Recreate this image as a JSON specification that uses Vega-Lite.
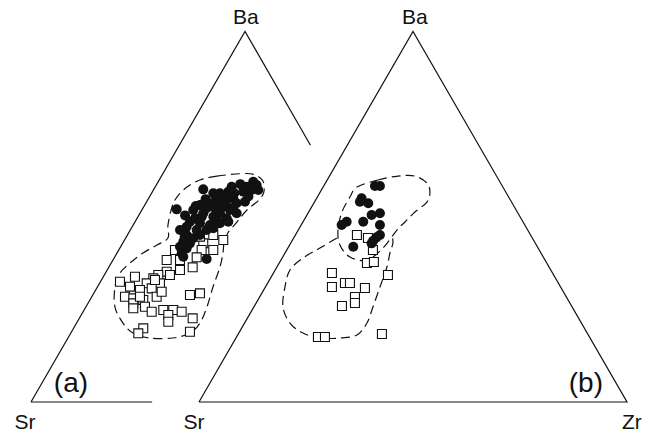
{
  "$schema": "https://vega.github.io/schema/vega-lite/v6.json",
  "width": 655,
  "height": 433,
  "padding": 0,
  "autosize": {"type": "fit", "contains": "padding"},
  "background": "white",
  "config": {"view": {"stroke": null}},
  "datasets": {
    "tri": [
      {"seg": "a1", "ord": 1, "x": 0, "y": 0},
      {"seg": "a1", "ord": 2, "x": 50, "y": 86.6},
      {"seg": "a1", "ord": 3, "x": 65.3, "y": 60.0},
      {"seg": "a2", "ord": 1, "x": 0, "y": 0},
      {"seg": "a2", "ord": 2, "x": 28.3, "y": 0},
      {"seg": "b", "ord": 1, "x": 39.25, "y": 0},
      {"seg": "b", "ord": 2, "x": 89.25, "y": 86.6},
      {"seg": "b", "ord": 3, "x": 139.25, "y": 0},
      {"seg": "b", "ord": 4, "x": 39.25, "y": 0}
    ],
    "envClosed": [
      {"g": "a", "ord": 1, "x": 39.48, "y": 51.86},
      {"g": "a", "ord": 2, "x": 43.45, "y": 52.76},
      {"g": "a", "ord": 3, "x": 48.82, "y": 53.33},
      {"g": "a", "ord": 4, "x": 52.06, "y": 53.19},
      {"g": "a", "ord": 5, "x": 54.16, "y": 51.69},
      {"g": "a", "ord": 6, "x": 54.4, "y": 49.06},
      {"g": "a", "ord": 7, "x": 53.13, "y": 47.09},
      {"g": "a", "ord": 8, "x": 50.46, "y": 44.85},
      {"g": "a", "ord": 9, "x": 48.12, "y": 42.05},
      {"g": "a", "ord": 10, "x": 46.0, "y": 39.5},
      {"g": "a", "ord": 11, "x": 45.1, "y": 37.14},
      {"g": "a", "ord": 12, "x": 44.85, "y": 34.81},
      {"g": "a", "ord": 13, "x": 44.15, "y": 31.54},
      {"g": "a", "ord": 14, "x": 42.52, "y": 26.86},
      {"g": "a", "ord": 15, "x": 41.11, "y": 22.19},
      {"g": "a", "ord": 16, "x": 39.48, "y": 18.45},
      {"g": "a", "ord": 17, "x": 37.14, "y": 16.12},
      {"g": "a", "ord": 18, "x": 33.17, "y": 14.95},
      {"g": "a", "ord": 19, "x": 27.8, "y": 14.95},
      {"g": "a", "ord": 20, "x": 23.83, "y": 16.12},
      {"g": "a", "ord": 21, "x": 21.49, "y": 18.45},
      {"g": "a", "ord": 22, "x": 19.62, "y": 22.19},
      {"g": "a", "ord": 23, "x": 19.62, "y": 26.86},
      {"g": "a", "ord": 24, "x": 20.79, "y": 30.13},
      {"g": "a", "ord": 25, "x": 23.13, "y": 32.47},
      {"g": "a", "ord": 26, "x": 26.16, "y": 34.81},
      {"g": "a", "ord": 27, "x": 29.43, "y": 36.68},
      {"g": "a", "ord": 28, "x": 32.0, "y": 38.31},
      {"g": "a", "ord": 29, "x": 32.0, "y": 41.35},
      {"g": "a", "ord": 30, "x": 32.94, "y": 45.55},
      {"g": "a", "ord": 31, "x": 34.1, "y": 47.89},
      {"g": "a", "ord": 32, "x": 36.44, "y": 50.22},
      {"g": "bu", "ord": 1, "x": 76.15, "y": 50.22},
      {"g": "bu", "ord": 2, "x": 81.06, "y": 51.86},
      {"g": "bu", "ord": 3, "x": 85.73, "y": 52.79},
      {"g": "bu", "ord": 4, "x": 89.7, "y": 52.79},
      {"g": "bu", "ord": 5, "x": 92.51, "y": 51.16},
      {"g": "bu", "ord": 6, "x": 93.21, "y": 49.06},
      {"g": "bu", "ord": 7, "x": 92.51, "y": 46.72},
      {"g": "bu", "ord": 8, "x": 89.7, "y": 44.38},
      {"g": "bu", "ord": 9, "x": 87.37, "y": 42.05},
      {"g": "bu", "ord": 10, "x": 85.5, "y": 40.18},
      {"g": "bu", "ord": 11, "x": 82.23, "y": 35.97},
      {"g": "bu", "ord": 12, "x": 78.49, "y": 33.17},
      {"g": "bu", "ord": 13, "x": 74.52, "y": 33.87},
      {"g": "bu", "ord": 14, "x": 72.18, "y": 36.68},
      {"g": "bu", "ord": 15, "x": 71.72, "y": 40.18},
      {"g": "bu", "ord": 16, "x": 72.65, "y": 44.38},
      {"g": "bu", "ord": 17, "x": 74.52, "y": 47.89}
    ],
    "envOpen": [
      {"g": "bl", "ord": 1, "x": 71.48, "y": 38.31},
      {"g": "bl", "ord": 2, "x": 67.51, "y": 35.97},
      {"g": "bl", "ord": 3, "x": 63.54, "y": 33.64},
      {"g": "bl", "ord": 4, "x": 60.5, "y": 30.84},
      {"g": "bl", "ord": 5, "x": 59.33, "y": 26.86},
      {"g": "bl", "ord": 6, "x": 58.87, "y": 22.19},
      {"g": "bl", "ord": 7, "x": 60.5, "y": 18.45},
      {"g": "bl", "ord": 8, "x": 63.54, "y": 16.12},
      {"g": "bl", "ord": 9, "x": 67.51, "y": 14.95},
      {"g": "bl", "ord": 10, "x": 72.18, "y": 14.95},
      {"g": "bl", "ord": 11, "x": 76.15, "y": 15.65},
      {"g": "bl", "ord": 12, "x": 78.49, "y": 18.45},
      {"g": "bl", "ord": 13, "x": 79.89, "y": 22.19},
      {"g": "bl", "ord": 14, "x": 81.53, "y": 26.86},
      {"g": "bl", "ord": 15, "x": 83.16, "y": 31.54},
      {"g": "bl", "ord": 16, "x": 83.86, "y": 34.81},
      {"g": "bl", "ord": 17, "x": 84.56, "y": 37.14},
      {"g": "bl", "ord": 18, "x": 84.33, "y": 39.01}
    ],
    "squares": [
      {"x": 42.59, "y": 39.01}, {"x": 44.92, "y": 37.84}, {"x": 42.59, "y": 35.51},
      {"x": 40.25, "y": 37.07}, {"x": 39.87, "y": 35.51}, {"x": 38.71, "y": 33.8},
      {"x": 33.64, "y": 35.51}, {"x": 31.7, "y": 33.17}, {"x": 34.81, "y": 33.17},
      {"x": 37.77, "y": 31.46}, {"x": 34.81, "y": 30.84}, {"x": 31.7, "y": 30.45},
      {"x": 29.74, "y": 29.67}, {"x": 32.47, "y": 29.67}, {"x": 28.57, "y": 28.9},
      {"x": 24.29, "y": 29.27}, {"x": 20.79, "y": 28.1}, {"x": 27.03, "y": 27.73},
      {"x": 30.13, "y": 27.73}, {"x": 23.13, "y": 26.94}, {"x": 25.46, "y": 26.16},
      {"x": 28.2, "y": 26.55}, {"x": 29.36, "y": 24.6}, {"x": 21.96, "y": 24.6},
      {"x": 23.9, "y": 24.22}, {"x": 26.23, "y": 23.83}, {"x": 23.9, "y": 23.06},
      {"x": 23.9, "y": 21.89}, {"x": 26.63, "y": 22.26}, {"x": 28.2, "y": 21.09},
      {"x": 30.91, "y": 21.49}, {"x": 33.24, "y": 21.49}, {"x": 35.2, "y": 21.09},
      {"x": 32.08, "y": 20.32}, {"x": 37.14, "y": 25.0}, {"x": 39.48, "y": 25.39},
      {"x": 37.77, "y": 19.55}, {"x": 32.08, "y": 18.76}, {"x": 37.14, "y": 16.42},
      {"x": 26.23, "y": 17.22}, {"x": 25.07, "y": 16.04}, {"x": 39.48, "y": 38.63},
      {"x": 28.97, "y": 28.5}, {"x": 30.53, "y": 25.77}, {"x": 25.46, "y": 24.6},
      {"x": 76.15, "y": 39.01}, {"x": 78.72, "y": 38.31}, {"x": 79.89, "y": 35.51},
      {"x": 78.49, "y": 32.47}, {"x": 80.12, "y": 32.7}, {"x": 70.31, "y": 30.13},
      {"x": 83.4, "y": 29.67}, {"x": 70.31, "y": 26.86}, {"x": 73.35, "y": 27.8},
      {"x": 74.52, "y": 27.8}, {"x": 78.02, "y": 26.63}, {"x": 75.69, "y": 24.53},
      {"x": 75.69, "y": 23.13}, {"x": 72.65, "y": 22.43}, {"x": 67.04, "y": 15.18},
      {"x": 68.68, "y": 15.18}, {"x": 81.99, "y": 15.88}
    ],
    "circles": [
      {"x": 51.93, "y": 51.47}, {"x": 52.72, "y": 50.69}, {"x": 53.1, "y": 49.52},
      {"x": 51.55, "y": 49.52}, {"x": 49.6, "y": 49.13}, {"x": 49.99, "y": 46.79},
      {"x": 46.88, "y": 50.3}, {"x": 46.1, "y": 49.13}, {"x": 45.32, "y": 47.96},
      {"x": 47.26, "y": 47.58}, {"x": 48.05, "y": 46.42}, {"x": 40.25, "y": 49.68},
      {"x": 34.04, "y": 45.01}, {"x": 43.38, "y": 47.58}, {"x": 41.81, "y": 46.42},
      {"x": 39.48, "y": 46.02}, {"x": 37.91, "y": 44.85}, {"x": 41.04, "y": 45.25},
      {"x": 42.98, "y": 45.25}, {"x": 44.92, "y": 45.62}, {"x": 46.49, "y": 44.85},
      {"x": 45.72, "y": 42.91}, {"x": 44.15, "y": 44.08}, {"x": 42.59, "y": 43.29},
      {"x": 40.25, "y": 44.08}, {"x": 38.31, "y": 42.91}, {"x": 37.14, "y": 42.12},
      {"x": 39.48, "y": 41.75}, {"x": 41.81, "y": 41.35}, {"x": 44.15, "y": 41.75},
      {"x": 46.1, "y": 42.12}, {"x": 41.04, "y": 40.18}, {"x": 38.71, "y": 40.18},
      {"x": 34.81, "y": 40.18}, {"x": 36.37, "y": 39.01}, {"x": 37.91, "y": 38.24},
      {"x": 39.48, "y": 39.01}, {"x": 35.58, "y": 37.45}, {"x": 37.14, "y": 37.07},
      {"x": 34.81, "y": 36.28}, {"x": 36.37, "y": 35.9}, {"x": 35.2, "y": 34.74},
      {"x": 35.58, "y": 33.94}, {"x": 41.04, "y": 33.4}, {"x": 44.15, "y": 48.75},
      {"x": 50.39, "y": 50.3}, {"x": 42.59, "y": 48.75}, {"x": 48.05, "y": 44.08},
      {"x": 36.37, "y": 40.96}, {"x": 43.38, "y": 42.52},
      {"x": 47.5, "y": 48.8}, {"x": 50.8, "y": 48.0}, {"x": 48.9, "y": 50.9},
      {"x": 45.5, "y": 46.4}, {"x": 43.8, "y": 46.6}, {"x": 39.9, "y": 43.3},
      {"x": 40.8, "y": 47.4}, {"x": 38.5, "y": 45.8}, {"x": 36.0, "y": 43.6},
      {"x": 35.9, "y": 38.6}, {"x": 47.2, "y": 45.3}, {"x": 42.6, "y": 40.6},
      {"x": 80.36, "y": 50.46}, {"x": 81.53, "y": 50.46}, {"x": 77.24, "y": 47.58},
      {"x": 76.85, "y": 46.79}, {"x": 78.8, "y": 46.42}, {"x": 79.58, "y": 43.68},
      {"x": 81.53, "y": 44.08}, {"x": 73.75, "y": 42.12}, {"x": 72.58, "y": 41.35},
      {"x": 77.63, "y": 42.12}, {"x": 81.53, "y": 41.35}, {"x": 81.53, "y": 39.01},
      {"x": 80.75, "y": 38.47}, {"x": 79.96, "y": 37.68}, {"x": 79.58, "y": 37.07},
      {"x": 75.3, "y": 36.28}
    ],
    "labels": [
      {"t": "Ba", "x": 50.22, "y": 89.82, "s": "el"},
      {"t": "Ba", "x": 89.7, "y": 89.82, "s": "el"},
      {"t": "Sr", "x": -1.4, "y": -4.79, "s": "el"},
      {"t": "Sr", "x": 38.08, "y": -4.79, "s": "el"},
      {"t": "Zr", "x": 140.39, "y": -4.79, "s": "el"},
      {"t": "(a)", "x": 9.34, "y": 4.2, "s": "panel"},
      {"t": "(b)", "x": 129.65, "y": 4.2, "s": "panel"}
    ]
  },
  "encoding": {
    "x": {"field": "x", "type": "quantitative", "scale": {"domain": [-7.243, 145.794], "nice": false, "zero": false}, "axis": null},
    "y": {"field": "y", "type": "quantitative", "scale": {"domain": [-7.243, 93.925], "nice": false, "zero": false}, "axis": null}
  },
  "layer": [
    {
      "data": {"name": "tri"},
      "mark": {"type": "line", "color": "#111111", "strokeWidth": 1.2, "strokeJoin": "miter"},
      "encoding": {"detail": {"field": "seg"}, "order": {"field": "ord", "type": "quantitative"}}
    },
    {
      "data": {"name": "envClosed"},
      "mark": {"type": "line", "color": "#111111", "strokeWidth": 1.2, "strokeDash": [9, 5], "interpolate": "cardinal-closed"},
      "encoding": {"detail": {"field": "g"}, "order": {"field": "ord", "type": "quantitative"}}
    },
    {
      "data": {"name": "envOpen"},
      "mark": {"type": "line", "color": "#111111", "strokeWidth": 1.2, "strokeDash": [9, 5], "interpolate": "cardinal"},
      "encoding": {"detail": {"field": "g"}, "order": {"field": "ord", "type": "quantitative"}}
    },
    {
      "data": {"name": "squares"},
      "mark": {"type": "point", "shape": "square", "filled": true, "fill": "white", "stroke": "#111111", "strokeWidth": 1.1, "size": 80, "opacity": 1}
    },
    {
      "data": {"name": "circles"},
      "mark": {"type": "point", "shape": "circle", "filled": true, "fill": "#111111", "stroke": null, "size": 100, "opacity": 1}
    },
    {
      "data": {"name": "labels"},
      "transform": [{"filter": "datum.s === 'el'"}],
      "mark": {"type": "text", "font": "Liberation Sans", "fontSize": 21, "color": "#111111", "align": "center", "baseline": "middle"},
      "encoding": {"text": {"field": "t"}}
    },
    {
      "data": {"name": "labels"},
      "transform": [{"filter": "datum.s === 'panel'"}],
      "mark": {"type": "text", "font": "Liberation Sans", "fontSize": 28, "color": "#111111", "align": "center", "baseline": "middle"},
      "encoding": {"text": {"field": "t"}}
    }
  ]
}
